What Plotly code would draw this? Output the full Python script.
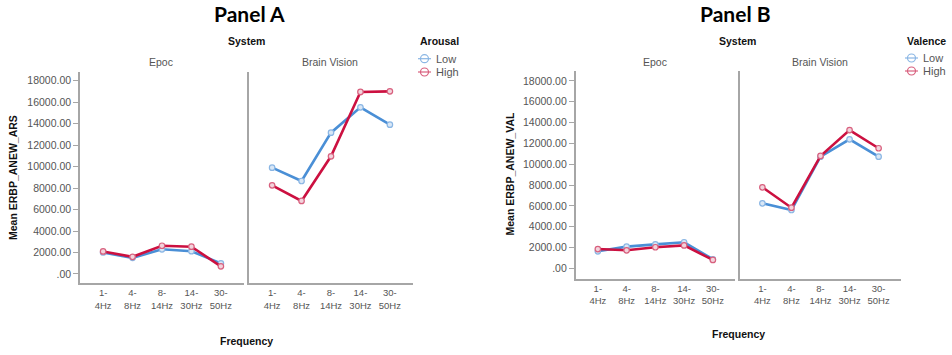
import plotly.graph_objects as go

W, H = 952, 355

freq_labels = ["1-<br>4Hz", "4-<br>8Hz", "8-<br>14Hz", "14-<br>30Hz", "30-<br>50Hz"]
systems = ["Epoc", "Brain Vision"]
levels = ["Low", "High"]

# Panel A: Mean ERBP_ANEW_ARS by Arousal
a_epoc_low = [2000, 1500, 2300, 2120, 990]
a_epoc_high = [2100, 1600, 2630, 2540, 710]
a_bv_low = [9900, 8660, 13160, 15520, 13900]
a_bv_high = [8260, 6800, 10960, 16950, 17010]

# Panel B: Mean ERBP_ANEW_VAL by Valence
b_epoc_low = [1630, 2080, 2300, 2500, 870]
b_epoc_high = [1850, 1730, 2020, 2200, 800]
b_bv_low = [6240, 5600, 10720, 12390, 10720]
b_bv_high = [7780, 5820, 10790, 13280, 11530]

y_ticks = [0, 2000, 4000, 6000, 8000, 10000, 12000, 14000, 16000, 18000]
y_ticktext = [".00"] + ["%d.00" % v for v in y_ticks[1:]]

COL = {"Low": "#4a8fd6", "High": "#cc1040"}
MFILL = {"Low": "#d9e7f6", "High": "#f3d3dc"}
MLINE = {"Low": "#8ab6e4", "High": "#d8607e"}

def px_x(p):
    return p / W

def px_y(p):
    return 1 - p / H

fig = go.Figure()

panels = [
    (["x", "x2"], ["y", "y2"], {"Epoc": (a_epoc_low, a_epoc_high), "Brain Vision": (a_bv_low, a_bv_high)}),
    (["x3", "x4"], ["y3", "y4"], {"Epoc": (b_epoc_low, b_epoc_high), "Brain Vision": (b_bv_low, b_bv_high)}),
]

xs = list(range(len(freq_labels)))
for xids, yids, data in panels:
    for xi, yi, sysname in zip(xids, yids, systems):
        low, high = data[sysname]
        for lvl, vals in zip(levels, (low, high)):
            fig.add_trace(go.Scatter(
                x=xs, y=vals, mode="lines+markers",
                line=dict(color=COL[lvl], width=2.6),
                marker=dict(symbol="circle", size=5.5, color=MFILL[lvl],
                            line=dict(color=MLINE[lvl], width=1.2)),
                xaxis=xi, yaxis=yi, showlegend=False, name=lvl,
            ))

axis_col = "#a6a6a6"
tick_font = dict(family="Liberation Sans, Arial, sans-serif", size=10.5, color="#555555")
xtick_font = dict(family="Liberation Sans, Arial, sans-serif", size=9.5, color="#555555")

def xaxis(dom, rng, anchor):
    return dict(domain=dom, range=rng, anchor=anchor, tickmode="array", tickvals=xs, ticktext=freq_labels,
                showgrid=False, zeroline=False, showline=True, linecolor=axis_col, linewidth=1.6,
                ticks="", tickfont=xtick_font, fixedrange=True)

def yaxis(dom, rng, anchor, labels=True):
    d = dict(domain=dom, range=rng, anchor=anchor, tickmode="array", tickvals=y_ticks,
             ticktext=y_ticktext, showgrid=False, zeroline=False, showline=True,
             linecolor=axis_col, linewidth=1.6, tickfont=tick_font, fixedrange=True)
    if labels:
        d.update(ticks="outside", ticklen=5, tickcolor=axis_col, tickwidth=1.2)
    else:
        d.update(showticklabels=False, ticks="")
    return d

yA = [px_y(283), px_y(72)]
yB = [px_y(278.7), px_y(70.7)]
rA = [-840, 18810]
rB = [-1000, 18980]

fig.update_layout(
    width=W, height=H, margin=dict(l=0, r=0, t=0, b=0),
    paper_bgcolor="white", plot_bgcolor="white", showlegend=False,
    xaxis=xaxis([px_x(80), px_x(244)], [-0.785, 4.785], "y"),
    xaxis2=xaxis([px_x(249), px_x(413)], [-0.785, 4.785], "y2"),
    xaxis3=xaxis([px_x(575.7), px_x(735)], [-0.77, 4.77], "y3"),
    xaxis4=xaxis([px_x(740), px_x(901)], [-0.77, 4.77], "y4"),
    yaxis=yaxis(yA, rA, "x"),
    yaxis2=yaxis(yA, rA, "x2", labels=False),
    yaxis3=yaxis(yB, rB, "x3"),
    yaxis4=yaxis(yB, rB, "x4", labels=False),
)

bold = dict(family="Liberation Sans, Arial, sans-serif", size=10.5, color="#111111")
strip = dict(family="Liberation Sans, Arial, sans-serif", size=10.5, color="#555555")
title_font = dict(family="Lato, Open Sans, sans-serif", size=21, color="black")
leg_font = dict(family="Liberation Sans, Arial, sans-serif", size=11, color="#555555")

def ann(text, x, y, font, angle=0, xanchor="center"):
    fig.add_annotation(text=text, x=px_x(x), y=px_y(y), xref="paper", yref="paper",
                       showarrow=False, font=font, textangle=angle,
                       xanchor=xanchor, yanchor="middle")

panel_specs = [
    dict(title="<b>Panel A</b>", tx=249, sysx=246, epx=161, bvx=330, ytitle="<b>Mean ERBP_ANEW_ARS</b>",
         ytx=12.5, yty=177.5, fx=246.5, fy=340.5, leg="Arousal", lx=418, ly=(41.5, 58.7, 72)),
    dict(title="<b>Panel B</b>", tx=735, sysx=737, epx=655, bvx=820, ytitle="<b>Mean ERBP_ANEW_VAL</b>",
         ytx=509, yty=174.5, fx=738, fy=334, leg="Valence", lx=905, ly=(41, 58, 71)),
]

for s in panel_specs:
    ann(s["title"], s["tx"], 14, title_font)
    ann("<b>System</b>", s["sysx"], 41.5, bold)
    ann(systems[0], s["epx"], 61.5, strip)
    ann(systems[1], s["bvx"], 61.5, strip)
    ann(s["ytitle"], s["ytx"], s["yty"], bold, angle=-90)
    ann("<b>Frequency</b>", s["fx"], s["fy"], bold)
    lx = s["lx"]
    ann("<b>%s</b>" % s["leg"], lx, s["ly"][0], bold, xanchor="left")
    for lvl, yy in zip(levels, s["ly"][1:]):
        fig.add_shape(type="line", xref="paper", yref="paper",
                      x0=px_x(lx), x1=px_x(lx + 13), y0=px_y(yy), y1=px_y(yy),
                      line=dict(color=MLINE[lvl], width=1.2))
        fig.add_shape(type="circle", xref="paper", yref="paper",
                      x0=px_x(lx + 2.5), x1=px_x(lx + 10.5), y0=px_y(yy + 4), y1=px_y(yy - 4),
                      line=dict(color=MLINE[lvl], width=1.2))
        ann(lvl, lx + 16, yy, leg_font, xanchor="left")

fig.write_html("out.html", config={"displayModeBar": False},
               post_script="document.body.style.margin='0';")
